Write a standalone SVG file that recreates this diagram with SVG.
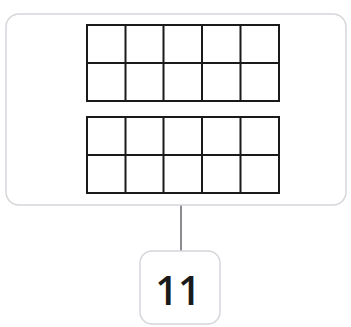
<svg xmlns="http://www.w3.org/2000/svg" width="351" height="327" viewBox="0 0 351 327">
<style>
.box{fill:#fff;stroke:#d4d6da;stroke-width:1.5}
.grid{fill:none;stroke:#1a1a1a;stroke-width:2}
.conn{stroke:#8a8c90;stroke-width:2}
.lbl{font-family:"Open Sans","Liberation Sans",Arial,sans-serif;font-size:40px;font-weight:600;fill:#1a1a1a;text-anchor:middle}
</style>
<rect width="351" height="327" fill="#fff"/>
<g id="connectors">
<line class="conn" x1="181" y1="205" x2="181" y2="251"/>
</g>
<g id="frame">
<rect class="box" x="6" y="14" width="340" height="191" rx="13"/>
<g id="grid-top">
<rect class="grid" x="87" y="25" width="192" height="76"/>
<path class="grid" d="M87 63H279M125.5 25V101M163.5 25V101M202 25V101M240.5 25V101"/>
</g>
<g id="grid-bottom">
<rect class="grid" x="87" y="117" width="192" height="76"/>
<path class="grid" d="M87 155H279M125.5 117V193M163.5 117V193M202 117V193M240.5 117V193"/>
</g>
</g>
<g id="answer">
<rect class="box" x="140" y="251" width="80" height="73" rx="12"/>
<text class="lbl" x="178" y="305">11</text>
</g>
</svg>
